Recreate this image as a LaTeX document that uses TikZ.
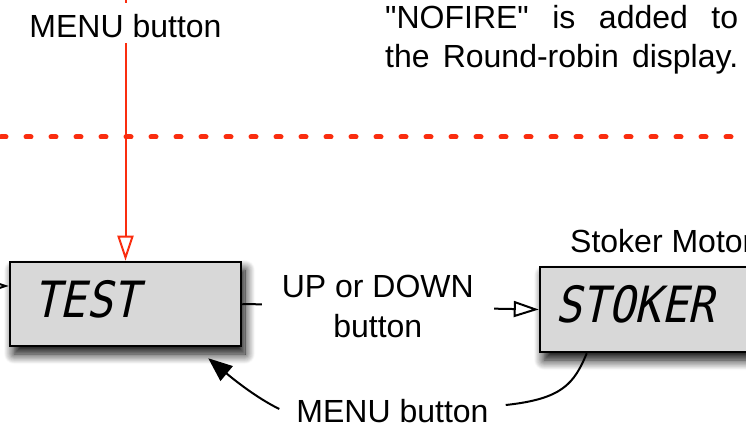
\documentclass[tikz,border=0pt]{standalone}
\usepackage{fontspec}
\setmainfont[Ligatures=TeXOff]{Liberation Sans}
\newfontfamily\lcd[FakeSlant=0.22,FakeStretch=0.88]{DejaVu Sans Mono}
\usetikzlibrary{arrows.meta,shadows.blur}
\definecolor{myred}{RGB}{250,45,15}
\definecolor{lcdgray}{RGB}{216,216,216}
\tikzset{
  lbl/.style={font=\fontsize{32}{40}\selectfont, inner sep=0pt},
  lcdbox/.style={draw=black, line width=2.5pt, fill=lcdgray, inner sep=0pt,
    blur shadow={shadow xshift=4pt, shadow yshift=-8pt, shadow blur radius=10pt, shadow blur steps=12, shadow opacity=100}},
  lcdtext/.style={font=\lcd\fontsize{50}{50}\selectfont, inner sep=0pt, anchor=west},
  openarrow/.style={line width=2pt, -{Triangle[open, length=25pt, width=16pt, line width=2pt]}},
  filledarrow/.style={line width=2pt, -{Triangle[length=24pt, width=19pt]}},
  plainline/.style={line width=2pt},
}
\begin{document}
\begin{tikzpicture}[x=1pt,y=-1pt]
\useasboundingbox (0,0) rectangle (746,427);
\clip (0,0) rectangle (746,427);

% dotted separator
\coordinate (dl) at (1,137);
\coordinate (dr) at (760,137);
\draw[myred, line width=5pt, line cap=round, dash pattern=on 5pt off 20pt] (dl) -- (dr);

% boxes
\node[lcdbox, minimum width=231pt, minimum height=84pt] (test) at (125.5,304) {};
\node[lcdtext] (testtxt) at (33,299) {TEST};
\node[lcdbox, minimum width=240pt, minimum height=85pt] (stoker) at (660,309.5) {};
\node[lcdtext] (stxt) at (555,304) {STOKER};
\node[lbl, anchor=base west] (smot) at (570,253) {Stoker Motor};

% top menu label and red arrow
\node[lbl] (mtop) at (125.5,26) {MENU button};
\coordinate (rtop) at (125.5,-5);
\draw[myred, line width=2pt, shorten >=11pt] (rtop) -- (mtop.north);
\draw[openarrow, myred, shorten <=5.5pt] (mtop.south) -- (test.north);

% paragraph
\node[lbl, anchor=base west] (p1) at (385,28.5) {\makebox[353pt][s]{"NOFIRE" is added to}};
\node[lbl, anchor=base west] (p2) at (385,68) {\makebox[353pt][s]{the Round-robin display.}};

% left incoming arrow
\coordinate (lin) at (-30,286);
\draw[openarrow] (lin) -- (test.west |- lin);

% UP or DOWN connector
\draw[openarrow] (test.east) -- node[lbl, pos=0.457, fill=white, inner xsep=20pt, inner ysep=3pt, align=center] (ud) {UP or DOWN\\button} (stoker.west);

% bottom MENU connector
\node[lbl] (mbot) at (392.5,411.5) {MENU button};
\draw[plainline] ([xshift=48pt]stoker.south west) .. controls (574,384) and (562,399) .. ([shift={(17pt,6.5pt)}]mbot.east);
\draw[filledarrow] ([shift={(-17pt,2.5pt)}]mbot.west) .. controls (255,397) and (232,378) .. ([shift={(-34pt,-11pt)}]test.south east);
\end{tikzpicture}
\end{document}
